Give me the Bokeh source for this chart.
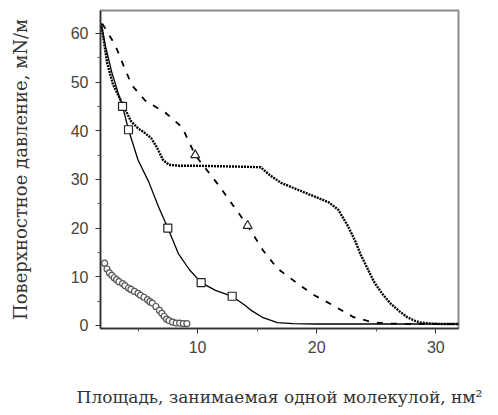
from bokeh.plotting import figure
from bokeh.models import Range1d, FixedTicker
from bokeh.embed import file_html
from bokeh.resources import INLINE

# Curve A: dotted line
a_x = [1.9, 2.1, 2.4, 2.9, 3.4, 3.8, 4.4, 5.0, 5.6, 6.1, 6.6, 7.1, 7.6, 8.5, 10, 12, 14, 15.3,
       16, 17, 18.5, 19.8, 21, 21.8, 22.6, 23.2, 23.7, 24.3, 24.8, 25.5, 26.2, 27, 27.6, 28.2,
       28.7, 29.5, 30.5, 31.5, 32]
a_y = [62, 59, 54, 49.5, 47, 45, 42, 40.5, 39.5, 38.5, 36.5, 34, 33, 32.8, 32.8, 32.7, 32.6, 32.5,
       31, 29.3, 27.8, 26.5, 25.3, 23.8, 20.5, 17.5, 14.5, 11.5, 9, 6.5, 4.5, 2.8, 1.7, 1.0,
       0.6, 0.4, 0.3, 0.3, 0.3]

# Curve B: solid line with squares
b_x = [1.9, 2.3, 2.8, 3.3, 3.7, 4.2, 5.0, 5.9, 6.7, 7.5, 8.4, 9.3, 10.3, 11.5, 12.9, 14.0,
       14.5, 15.5, 16.7, 18, 20, 25, 30, 32]
b_y = [62, 57, 52, 48, 45, 40.2, 34, 29.5, 24.5, 20, 14.7, 11.5, 8.8, 7.2, 6.0, 4.1,
       3.1, 1.6, 0.6, 0.4, 0.3, 0.3, 0.3, 0.3]
b_mx = [3.7, 4.2, 7.5, 10.3, 12.9]
b_my = [45, 40.2, 20, 8.8, 6.0]

# Curve C: dashed line with triangles
c_x = [2.0, 2.5, 3.1, 3.95, 4.5, 5.6, 7.3, 8.7, 9.8, 11.8, 13.0, 14.2, 15.5, 16.7, 18.4,
       19.8, 21.4, 23.1, 24.8, 26, 28, 30, 32]
c_y = [62, 60, 57.5, 52.4, 49.3, 46.2, 43.7, 40.7, 35, 28.7, 24.6, 20.5, 15.4, 11.7, 8.6,
       6.2, 4.1, 1.7, 0.6, 0.4, 0.3, 0.3, 0.3]
c_mx = [9.8, 14.2]
c_my = [35, 20.5]

# Curve D: open circles
d_x = [2.2, 2.4, 2.6, 2.8, 3.0, 3.2, 3.4, 3.7, 3.9, 4.2, 4.4, 4.7, 5.0, 5.2, 5.5, 5.8,
       6.0, 6.2, 6.5, 6.8, 7.0, 7.2, 7.4, 7.6, 7.9, 8.2, 8.5, 8.8, 9.1]
d_y = [12.8, 11.6, 10.8, 10.3, 9.8, 9.4, 9.0, 8.6, 8.2, 7.7, 7.4, 7.0, 6.6, 6.2, 5.8, 5.3,
       4.9, 4.6, 3.9, 3.1, 2.5, 1.9, 1.3, 1.0, 0.7, 0.5, 0.5, 0.4, 0.4]

x_ticks = [10, 20, 30]
y_ticks = [0, 10, 20, 30, 40, 50, 60]

p = figure(width=498, height=415, output_backend="svg", toolbar_location=None,
           x_range=Range1d(1.85, 31.9), y_range=Range1d(-0.62, 64.7),
           min_border_left=100, min_border_right=40, min_border_top=10, min_border_bottom=87)
p.grid.visible = False
p.outline_line_color = "#8c8c8c"
p.outline_line_width = 2
p.background_fill_color = "white"
p.border_fill_color = "white"

p.xaxis.ticker = FixedTicker(ticks=x_ticks, minor_ticks=[5, 15, 25])
p.yaxis.ticker = FixedTicker(ticks=y_ticks, minor_ticks=[5, 15, 25, 35, 45, 55])
for ax in (p.xaxis, p.yaxis):
    ax.axis_line_color = "#333333"
    ax.axis_line_width = 1.5
    ax.major_tick_line_color = "#333333"
    ax.minor_tick_line_color = "#555555"
    ax.major_tick_out = 5
    ax.major_tick_in = 0
    ax.minor_tick_out = 3
    ax.minor_tick_in = 0
    ax.major_label_text_font = "Liberation Sans"
    ax.major_label_text_font_size = "16px"
    ax.major_label_text_color = "#444444"
    ax.axis_label_text_font = "DejaVu Serif"
    ax.axis_label_text_font_style = "normal"
    ax.axis_label_text_color = "#333333"

p.xaxis.major_label_standoff = 7
p.yaxis.major_label_standoff = 7
p.xaxis.axis_label = "Площадь, занимаемая одной молекулой, нм²"
p.xaxis.axis_label_text_font_size = "17px"
p.xaxis.axis_label_standoff = 31
p.yaxis.axis_label = "Поверхностное давление, мN/м"
p.yaxis.axis_label_text_font_size = "18px"
p.yaxis.axis_label_standoff = 37

# curves
p.scatter(d_x, d_y, marker="circle", size=6, fill_color="white", line_color="#555555",
          line_width=1.2)
p.line(a_x, a_y, line_color="black", line_width=2.4, line_dash="2 1")
p.line(b_x, b_y, line_color="black", line_width=1.3)
p.scatter(b_mx, b_my, marker="square", size=8, fill_color="white", line_color="#222222",
          line_width=1.2)
p.line(c_x, c_y, line_color="black", line_width=1.8, line_dash="6 8")
p.scatter(c_mx, c_my, marker="triangle", size=9, fill_color="white", line_color="#222222",
          line_width=1.2)

open("out.html", "w").write(file_html(p, INLINE))
